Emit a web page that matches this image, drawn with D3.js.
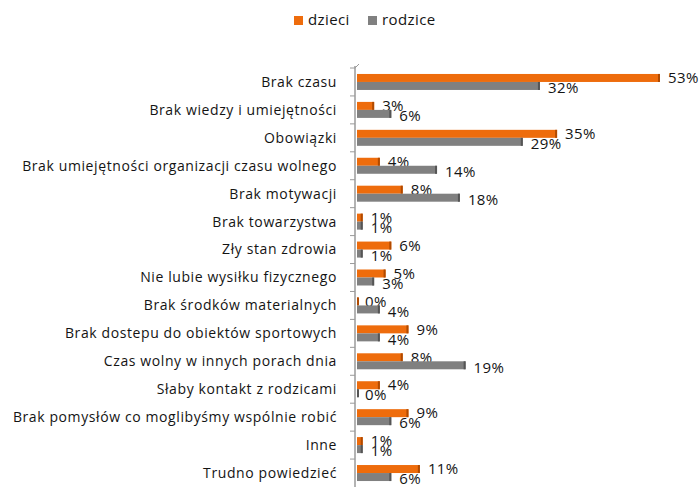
<!DOCTYPE html>
<html lang="pl">
<head>
  <meta charset="UTF-8">
  <title>Bariery</title>
  <style>
    body{margin:0;background:#fff;}
    text{font-family:"Open Sans", sans-serif;fill:#141414;}
  </style>
</head>
<body>
<svg width="699" height="487"></svg>
<script src="https://cdnjs.cloudflare.com/ajax/libs/d3/7.8.5/d3.min.js"></script>
<script>
  // dane
  var categories = ["Brak czasu", "Brak wiedzy i umiejętności", "Obowiązki",
    "Brak umiejętności organizacji czasu wolnego", "Brak motywacji", "Brak towarzystwa",
    "Zły stan zdrowia", "Nie lubie wysiłku fizycznego", "Brak środków materialnych",
    "Brak dostepu do obiektów sportowych", "Czas wolny w innych porach dnia",
    "Słaby kontakt z rodzicami", "Brak pomysłów co moglibyśmy wspólnie robić",
    "Inne", "Trudno powiedzieć"];
  var dzieci = [53, 3, 35, 4, 8, 1, 6, 5, 0, 9, 8, 4, 9, 1, 11];
  var rodzice = [32, 6, 29, 14, 18, 1, 1, 3, 4, 4, 19, 0, 6, 1, 6];
  var seriesNames = ["dzieci", "rodzice"];

  var colors = {dzieci: "#ee6c0c", rodzice: "#808080"};
  var edges = {dzieci: "#b04a00", rodzice: "#555555"};

  var svg = d3.select('svg');
  var x = d3.scaleLinear().domain([0, 53]).range([357, 660]);
  var y = d3.scaleBand().domain(categories).range([68, 487]);

  // oś
  svg.append('line').attr('x1', 355).attr('x2', 355).attr('y1', 66).attr('y2', 487)
    .attr('stroke', '#9a9a9a').attr('stroke-width', 1.5);
  svg.append('line').attr('x1', 355).attr('x2', 359).attr('y1', 68).attr('y2', 64)
    .attr('stroke', '#9a9a9a');
  svg.append('g').selectAll('line').data(categories).enter().append('line')
    .attr('x1', 350).attr('x2', 355)
    .attr('y1', function (d) { return y(d); }).attr('y2', function (d) { return y(d); })
    .attr('stroke', '#9a9a9a');

  // etykiety kategorii
  svg.append('g').selectAll('text').data(categories).enter().append('text')
    .attr('x', 337).attr('y', function (d) { return y(d) + y.bandwidth() / 2; })
    .attr('dy', '0.35em').attr('text-anchor', 'end').attr('font-size', 14)
    .attr('letter-spacing', 0.6)
    .text(function (d) { return d; });

  var rows = categories.map(function (c, i) {
    return {cat: c, dzieci: dzieci[i], rodzice: rodzice[i]};
  });

  seriesNames.forEach(function (s, k) {
    var g = svg.append('g');
    var offY = k === 0 ? -8 : 0;
    var grp = g.selectAll('g').data(rows).enter().append('g');
    grp.append('rect')
      .attr('x', x(0))
      .attr('y', function (d) { return y(d.cat) + y.bandwidth() / 2 + offY; })
      .attr('width', function (d) { return Math.max(x(d[s]) - x(0), 1.5); })
      .attr('height', 8)
      .attr('fill', colors[s]);
    grp.append('rect')
      .attr('x', function (d) { return Math.max(x(d[s]) - 2, x(0)); })
      .attr('y', function (d) { return y(d.cat) + y.bandwidth() / 2 + offY; })
      .attr('width', 2).attr('height', 8)
      .attr('fill', edges[s]);
    grp.append('text')
      .attr('x', function (d) { return x(d[s]) + 8; })
      .attr('y', function (d) { return y(d.cat) + y.bandwidth() / 2 + (k === 0 ? -4 : 6); })
      .attr('dy', '0.35em').attr('font-size', 15).attr('letter-spacing', 0.4)
      .text(function (d) { return d[s] + '%'; });
  });

  // legenda
  var leg = svg.append('g').attr('transform', 'translate(294,16)');
  var legX = [0, 74];
  seriesNames.forEach(function (s, i) {
    leg.append('rect').attr('x', legX[i]).attr('y', 0).attr('width', 9).attr('height', 9)
      .attr('fill', colors[s]);
    leg.append('text').attr('x', legX[i] + 14).attr('y', 4).attr('dy', '0.35em')
      .attr('font-size', 15).attr('letter-spacing', 0.4).text(s);
  });
</script>
</body>
</html>
